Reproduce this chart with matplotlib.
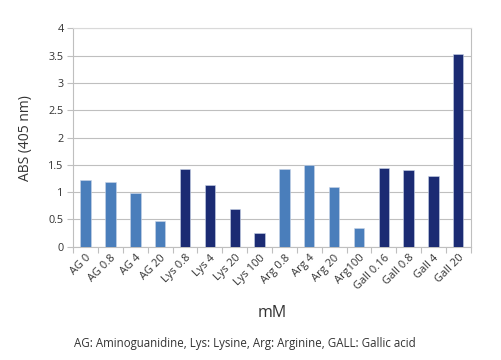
import matplotlib.pyplot as plt

plt.rcParams['font.family'] = ['Open Sans', 'DejaVu Sans']

# data
labels = ['AG 0', 'AG 0.8', 'AG 4', 'AG 20', 'Lys 0.8', 'Lys 4', 'Lys 20', 'Lys 100',
          'Arg 0.8', 'Arg 4', 'Arg 20', 'Arg100', 'Gall 0.16', 'Gall 0.8', 'Gall 4', 'Gall 20']
values = [1.22, 1.19, 0.99, 0.48, 1.43, 1.14, 0.69, 0.245,
          1.42, 1.50, 1.09, 0.34, 1.45, 1.40, 1.29, 3.54]
groups = ['AG'] * 4 + ['Lys'] * 4 + ['Arg'] * 4 + ['Gall'] * 4

light = '#4a7ebb'
dark = '#1b2b73'
group_color = {'AG': light, 'Lys': dark, 'Arg': light, 'Gall': dark}
colors = [group_color[g] for g in groups]

fig = plt.figure(figsize=(5.01, 3.6), dpi=100)
ax = fig.add_axes([0.1463, 0.3147, 0.7932, 0.6063])

x = list(range(len(labels)))
ax.bar(x, values, width=0.42, color=colors, edgecolor='#c8d4e8', linewidth=0.4, zorder=3)

ax.set_xlim(-0.5, len(labels) - 0.5)
ax.set_ylim(0, 4)
ax.set_yticks([0, 0.5, 1, 1.5, 2, 2.5, 3, 3.5, 4])
ax.set_yticklabels(['0', '0.5', '1', '1.5', '2', '2.5', '3', '3.5', '4'], fontsize=7.8, color='#333333')
ax.yaxis.grid(True, color='#bfbfbf', linewidth=0.8, zorder=0)
ax.tick_params(axis='y', length=4, color='#bfbfbf', pad=3)

# x ticks between categories, labels at centres
ax.set_xticks([i - 0.5 for i in range(len(labels) + 1)], minor=False)
ax.set_xticklabels([])
ax.tick_params(axis='x', length=4, color='#bfbfbf', direction='out')
ax.set_xticks(x, minor=True)
ax.set_xticklabels(labels, minor=True, rotation=45, ha='right', rotation_mode='anchor',
                   fontsize=8, color='#333333')
ax.tick_params(axis='x', which='minor', length=0, pad=4)

for side in ['left', 'bottom', 'right']:
    ax.spines[side].set_color('#bfbfbf')
ax.spines['top'].set_color('#d9d9d9')

ax.set_ylabel('ABS (405 nm)', fontsize=10, color='#333333', labelpad=11)
fig.text(0.543, 0.13, 'mM', ha='center', va='center', fontsize=11.5, color='#333333')
fig.text(0.147, 0.047, 'AG: Aminoguanidine, Lys: Lysine, Arg: Arginine, GALL: Gallic acid',
         ha='left', va='center', fontsize=8.3, color='#333333')

fig.savefig('out.png', dpi=100)
